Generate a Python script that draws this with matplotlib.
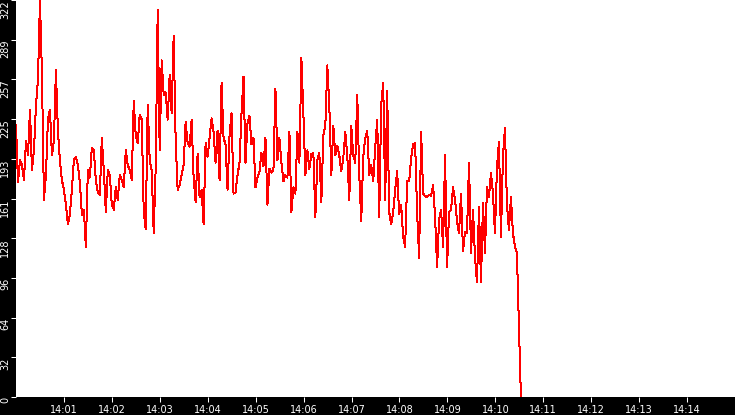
import numpy as np
import pandas as pd
import matplotlib
matplotlib.use("Agg")
import matplotlib.pyplot as plt

# values, left to right (about one sample every ~2.5 s)
seg1 = [221, 174, 192, 188, 176, 208, 196, 233, 184, 200, 237, 257, 322, 262, 160,
        180, 225, 233, 196, 208, 265, 216, 192, 176, 168, 156, 140, 148, 168, 192,
        195, 188, 174, 148, 152, 122, 184, 178, 202, 200, 176, 166, 164, 210, 184,
        150, 184, 180, 156, 152]
seg2 = [170, 160, 180, 176, 170, 200, 188, 184, 176, 240, 212, 206, 229, 225, 150,
        136, 237, 192, 184, 133, 186, 314, 200, 273, 245, 247, 225, 261, 230, 293,
        208, 168, 172, 180, 188, 223, 206, 203, 225, 178, 158, 197, 162, 168, 140,
        206, 195, 210, 226, 215]
seg3 = [190, 216, 176, 255, 210, 205, 168, 212, 230, 165, 166, 180, 190, 230, 260,
        190, 222, 228, 205, 210, 170, 178, 183, 198, 187, 210, 156, 185, 182, 184,
        250, 192, 210, 190, 175, 180, 178, 215, 150, 170, 165, 215, 190, 275, 230,
        180, 200, 185, 197, 198]
seg4 = [146, 192, 198, 158, 212, 220, 269, 236, 180, 220, 196, 204, 196, 183, 194,
        215, 196, 160, 220, 196, 190, 245, 180, 143, 195, 210, 216, 180, 188, 175,
        202, 225, 146, 237, 255, 160, 248, 150, 140, 150, 168, 183, 148, 156, 130,
        122, 175, 175, 194, 205]
seg5 = [206, 149, 113, 215, 165, 163, 162, 164, 163, 172, 146, 105, 144, 152, 122,
        196, 105, 150, 152, 170, 160, 142, 133, 165, 118, 134, 133, 190, 117, 152,
        113, 93, 154, 93, 157, 117, 170, 162, 182, 165, 133, 186, 207, 130, 195,
        218, 157, 135, 162, 133, 122, 117, 58, 0]
values = seg1 + seg2 + seg3 + seg4 + seg5

t_start = "2000-01-01 14:00:00"
t_last = "2000-01-01 14:10:32"
t_axis_end = "2000-01-01 14:15:00"
times = pd.date_range(t_start, t_last, periods=len(values))

y_max = 322
ytick_labels = ["0", "32", "64", "96", "128", "161", "193", "225", "257", "289", "322"]
xtick_labels = [f"14:{m:02d}" for m in range(1, 15)]

fig = plt.figure(figsize=(7.35, 4.15), dpi=100, facecolor="black")
ax = fig.add_axes([16 / 735, 18 / 415, 1 - 16 / 735, 1 - 18 / 415])
ax.set_facecolor("white")

ax.plot(times, values, color="#ff0000", lw=0.72, antialiased=False)

ax.set_xlim(pd.Timestamp(t_start), pd.Timestamp(t_axis_end))
ax.set_ylim(0, y_max)

ax.set_yticks(np.linspace(0, y_max, len(ytick_labels)))
ax.set_yticklabels(ytick_labels, rotation=90, rotation_mode="anchor",
                   ha="right", va="center")
ax.set_xticks(pd.date_range("2000-01-01 14:01", periods=len(xtick_labels), freq="min"))
ax.set_xticklabels(xtick_labels)
ax.tick_params(colors="white", labelcolor="white", labelsize=7,
               length=3.8, width=0.75, direction="out")
ax.tick_params(axis="y", pad=4.0)
ax.tick_params(axis="x", pad=2.0)
for s in ax.spines.values():
    s.set_visible(False)

fig.savefig("out.png", dpi=100, facecolor="black")
plt.close(fig)
